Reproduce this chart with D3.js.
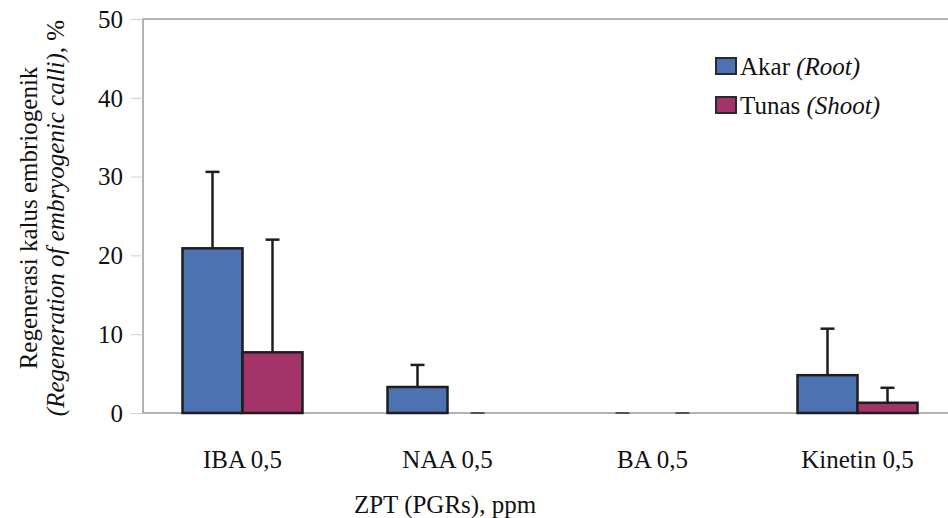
<!DOCTYPE html>
<html>
<head>
<meta charset="utf-8">
<script src="https://cdn.jsdelivr.net/npm/d3@7/dist/d3.min.js"></script>
</head>
<body style="margin:0;background:#fff">
<div id="chart"></div>
<script>
"use strict"

// data
const categories = ["IBA 0,5", "NAA 0,5", "BA 0,5", "Kinetin 0,5"];
const seriesNames = ["Akar", "Tunas"];
const seriesLatin = ["(Root)", "(Shoot)"];
const akarValues = [20.9, 3.3, 0, 4.8];
const akarErrors = [9.7, 2.8, 0, 5.9];
const tunasValues = [7.7, 0, 0, 1.3];
const tunasErrors = [14.3, 0, 0, 1.9];
const yTicks = [0, 10, 20, 30, 40, 50];

const width = 948, height = 518;
const colors = ["#4d72b2", "#a2346a"];
const FONT = "Liberation Serif";
const FS = 25;

let svg = d3.select("#chart").append("svg")
  .attr("width", width)
  .attr("height", height)
  .attr("font-family", FONT)
  .attr("font-size", FS);

let y = d3.scaleLinear()
  .domain([0, 50])
  .range([413, 19]);

let x = d3.scaleBand()
  .domain(categories)
  .range([140, 960]);

let xInner = d3.scaleBand()
  .domain(seriesNames)
  .range([x.bandwidth() / 2 - 60, x.bandwidth() / 2 + 60]);

// plot frame
svg.append("path")
  .attr("d", "M143,413 V19 H948")
  .attr("fill", "none")
  .attr("stroke", "#9a9a9a")
  .attr("stroke-width", 1.5);

// y axis
let yAxis = svg.append("g")
  .attr("transform", "translate(143,0)")
  .call(d3.axisLeft(y).tickValues(yTicks).tickSize(12).tickPadding(8))
  .attr("font-family", FONT)
  .attr("font-size", FS);
yAxis.select(".domain").remove();
yAxis.selectAll(".tick line").attr("stroke", "#cfcfcf");
yAxis.selectAll("text")
  .attr("dy", "0.33em")
  .attr("fill", "#111");

// baseline
svg.append("line")
  .attr("x1", 143).attr("x2", width)
  .attr("y1", y(0)).attr("y2", y(0))
  .attr("stroke", "#9a9a9a")
  .attr("stroke-width", 1.5);

// category labels
svg.append("g").selectAll("text")
  .data(categories)
  .join("text")
  .attr("x", d => x(d) + x.bandwidth() / 2)
  .attr("y", 468)
  .attr("text-anchor", "middle")
  .attr("font-family", FONT)
  .attr("fill", "#111")
  .text(d => d);

// bars
let rows = [];
categories.forEach((c, i) => {
  rows.push({ cat: c, s: 0, v: akarValues[i], e: akarErrors[i] });
  rows.push({ cat: c, s: 1, v: tunasValues[i], e: tunasErrors[i] });
});

let bars = svg.append("g");

bars.selectAll("rect")
  .data(rows.filter(d => d.v > 0))
  .join("rect")
  .attr("x", d => x(d.cat) + xInner(seriesNames[d.s]))
  .attr("y", d => y(d.v))
  .attr("width", xInner.bandwidth())
  .attr("height", d => y(0) - y(d.v))
  .attr("fill", d => colors[d.s])
  .attr("stroke", "#1e1e1e")
  .attr("stroke-width", 2.5);

// zero-value dashes
bars.selectAll("line.zero")
  .data(rows.filter(d => d.v === 0))
  .join("line")
  .attr("class", "zero")
  .attr("x1", d => x(d.cat) + xInner(seriesNames[d.s]) + xInner.bandwidth() / 2 - 7)
  .attr("x2", d => x(d.cat) + xInner(seriesNames[d.s]) + xInner.bandwidth() / 2 + 7)
  .attr("y1", y(0)).attr("y2", y(0))
  .attr("stroke", "#555")
  .attr("stroke-width", 2);

// error bars (upper only)
let errs = bars.selectAll("g.err")
  .data(rows.filter(d => d.e > 0))
  .join("g")
  .attr("class", "err")
  .attr("transform", d => "translate(" + (x(d.cat) + xInner(seriesNames[d.s]) + xInner.bandwidth() / 2) + ",0)");

errs.append("line")
  .attr("y1", d => y(d.v))
  .attr("y2", d => y(d.v + d.e))
  .attr("stroke", "#1e1e1e")
  .attr("stroke-width", 2.5);

errs.append("line")
  .attr("x1", -7).attr("x2", 7)
  .attr("y1", d => y(d.v + d.e))
  .attr("y2", d => y(d.v + d.e))
  .attr("stroke", "#1e1e1e")
  .attr("stroke-width", 2.5);

// legend
let legend = svg.append("g").attr("transform", "translate(716,0)");
seriesNames.forEach((name, i) => {
  let g = legend.append("g").attr("transform", "translate(0," + (58 + i * 39) + ")");
  g.append("rect")
    .attr("width", 20).attr("height", 16)
    .attr("fill", colors[i])
    .attr("stroke", "#2a2a2a")
    .attr("stroke-width", 2);
  let t = g.append("text")
    .attr("x", 24).attr("y", 17)
    .attr("font-family", FONT)
    .attr("fill", "#111");
  t.append("tspan").text(name + " ");
  t.append("tspan").attr("font-style", "italic").text(seriesLatin[i]);
});

// axis titles
svg.append("text")
  .attr("x", 445).attr("y", 513)
  .attr("text-anchor", "middle")
  .attr("font-family", FONT)
  .attr("fill", "#111")
  .text("ZPT (PGRs), ppm");

let yt = svg.append("text")
  .attr("transform", "translate(0,218) rotate(-90)")
  .attr("text-anchor", "middle")
  .attr("font-family", FONT)
  .attr("fill", "#111");
yt.append("tspan").attr("x", 0).attr("y", 37).text("Regenerasi kalus embriogenik");
let l2 = yt.append("tspan").attr("x", 0).attr("y", 64);
l2.append("tspan").attr("font-style", "italic").text("(Regeneration of embryogenic calli)");
l2.append("tspan").text(", %");
</script>
</body>
</html>
